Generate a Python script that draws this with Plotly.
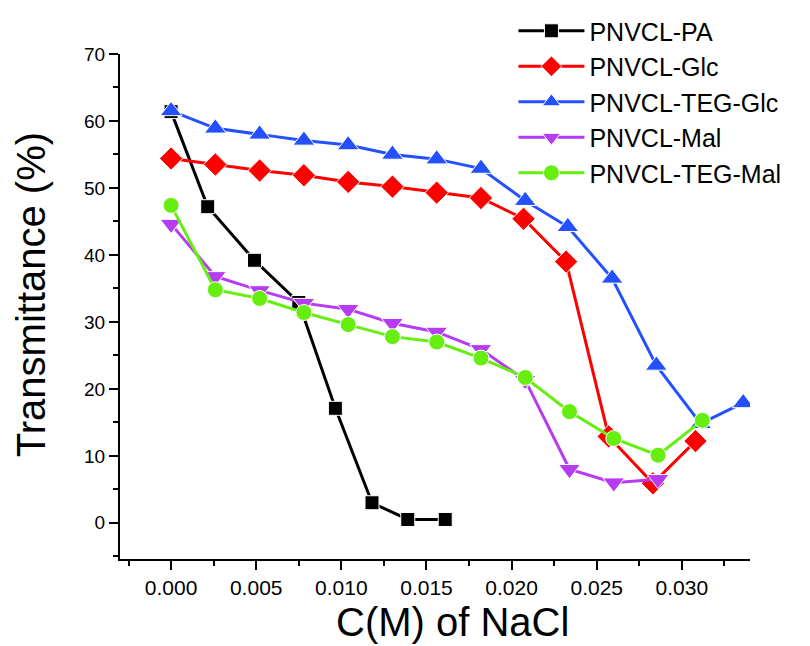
import plotly.graph_objects as go

# ---- data ----
x_pa = [0.0, 0.00215, 0.0049, 0.0075, 0.00965, 0.0118, 0.0139, 0.0161]
y_pa = [61.4, 47.2, 39.2, 32.9, 17.1, 3.0, 0.5, 0.5]

x_glc = [0.0, 0.0026, 0.0052, 0.0078, 0.0104, 0.013, 0.0156, 0.0182, 0.0207, 0.0232, 0.0257, 0.0283, 0.0308]
y_glc = [54.4, 53.5, 52.6, 51.9, 50.9, 50.2, 49.3, 48.5, 45.4, 39.0, 12.9, 5.9, 12.2]

x_teg_glc = [0.0, 0.0026, 0.0052, 0.0078, 0.0104, 0.013, 0.0156, 0.0182, 0.0208, 0.0233, 0.0259, 0.0285, 0.0311, 0.0336]
y_teg_glc = [61.5, 58.9, 58.0, 57.1, 56.4, 55.0, 54.3, 52.9, 48.1, 44.2, 36.5, 23.5, 14.8, 17.9]

x_mal = [0.0, 0.0026, 0.0052, 0.0078, 0.0104, 0.013, 0.0156, 0.0182, 0.0208, 0.0234, 0.026, 0.0286]
y_mal = [44.6, 36.8, 34.7, 32.8, 31.9, 29.8, 28.5, 25.9, 21.3, 8.0, 6.0, 6.5]

x_teg_mal = [0.0, 0.0026, 0.0052, 0.0078, 0.0104, 0.013, 0.0156, 0.0182, 0.0208, 0.0234, 0.026, 0.0286, 0.0312]
y_teg_mal = [47.4, 34.8, 33.5, 31.4, 29.6, 27.8, 27.0, 24.6, 21.7, 16.6, 12.6, 10.1, 15.3]

x_ticks = [0, 0.005, 0.01, 0.015, 0.02, 0.025, 0.03]
x_ticktext = ["0.000", "0.005", "0.010", "0.015", "0.020", "0.025", "0.030"]
y_ticks = [0, 10, 20, 30, 40, 50, 60, 70]

names = ["PNVCL-PA", "PNVCL-Glc", "PNVCL-TEG-Glc", "PNVCL-Mal", "PNVCL-TEG-Mal"]
colors = ["#000000", "#ff0000", "#2450ff", "#b53cf2", "#66ee10"]
symbols = ["square", "diamond", "triangle-up", "triangle-down", "circle"]
sizes = [14, 18, 19, 19, 16]

series = [(x_pa, y_pa), (x_glc, y_glc), (x_teg_glc, y_teg_glc), (x_mal, y_mal), (x_teg_mal, y_teg_mal)]

fig = go.Figure()
for (xs, ys), nm, c, sym, sz in zip(series, names, colors, symbols, sizes):
    fig.add_trace(go.Scatter(
        x=xs, y=ys, name=nm, mode="lines+markers",
        line=dict(color=c, width=3),
        marker=dict(symbol=sym, size=sz, color=c, line=dict(color="white", width=1)),
    ))

font = "Liberation Sans, Arial, sans-serif"

fig.update_layout(
    width=810, height=646,
    margin=dict(l=112, r=68, t=46, b=95, autoexpand=False),
    plot_bgcolor="white", paper_bgcolor="white",
    showlegend=True,
    legend=dict(
        x=0.6245, y=1.091, xanchor="left", yanchor="top",
        font=dict(family=font, size=25, color="black"),
        bgcolor="rgba(0,0,0,0)", itemwidth=66, tracegroupgap=0,
    ),
    xaxis=dict(
        range=[-0.003, 0.034], tickvals=x_ticks, ticktext=x_ticktext,
        showgrid=False, zeroline=False, showline=True, linecolor="black", linewidth=2,
        ticks="outside", ticklen=9, tickwidth=2, tickcolor="black",
        minor=dict(dtick=0.0025, tick0=0, ticks="outside", ticklen=5, tickwidth=2, tickcolor="black"),
        tickfont=dict(family=font, size=21, color="black"),
    ),
    yaxis=dict(
        range=[-5.4, 70], tickvals=y_ticks,
        showgrid=False, zeroline=False, showline=True, linecolor="black", linewidth=2,
        ticks="outside", ticklen=9, tickwidth=2, tickcolor="black",
        minor=dict(dtick=5, tick0=0, ticks="outside", ticklen=5, tickwidth=2, tickcolor="black"),
        tickfont=dict(family=font, size=19, color="black"),
    ),
    annotations=[
        dict(text="C(M) of NaCl", xref="paper", yref="paper", x=0.528, y=-0.1247,
             xanchor="center", yanchor="middle", showarrow=False,
             font=dict(family=font, size=40, color="black")),
        dict(text="Transmittance (%)", xref="paper", yref="paper", x=-0.14, y=0.524,
             xanchor="center", yanchor="middle", showarrow=False, textangle=-90,
             font=dict(family=font, size=40, color="black")),
    ],
)

fig.write_html("out.html")
